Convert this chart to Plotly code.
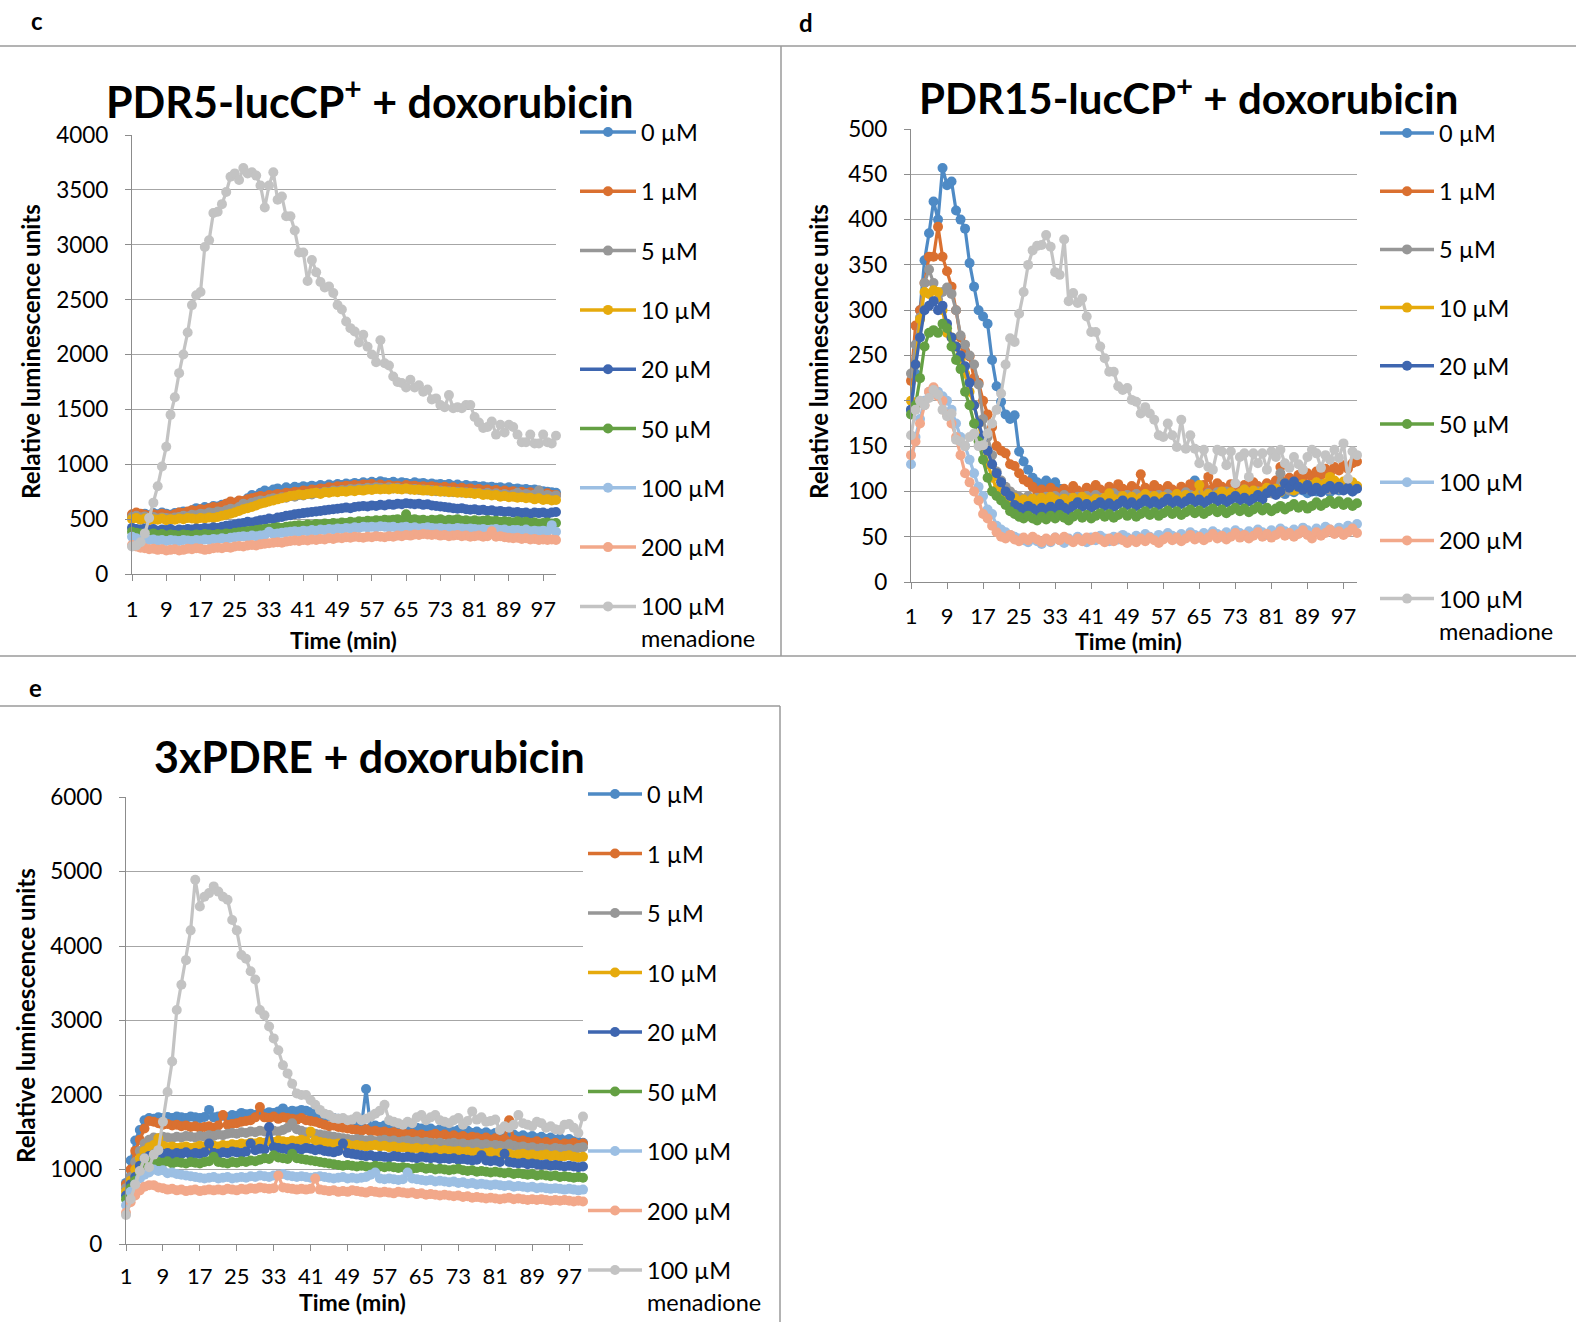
import plotly.graph_objects as go

W, H = 1576, 1322
FONT = "Lato"

# ---- series labels and colours ----
series_names = ["0 µM", "1 µM", "5 µM", "10 µM", "20 µM", "50 µM", "100 µM", "200 µM", "100 µM menadione"]
colors = ["#4E8AC5", "#DA7030", "#979797", "#E6AA0C", "#3E66B0", "#64A043", "#9CBFE3", "#F2A88A", "#C3C3C3"]
x_ticks = [1, 9, 17, 25, 33, 41, 49, 57, 65, 73, 81, 89, 97]
time_min = list(range(1, 101))

# ---- panel c: PDR5-lucCP+ + doxorubicin ----
c_0uM = [530, 545, 540, 550, 535, 555, 545, 560, 550, 540,
         555, 560, 570, 560, 580, 600, 590, 610, 600, 620,
         615, 630, 640, 625, 650, 665, 660, 690, 720, 710,
         740, 760, 750, 770, 780, 760, 790, 775, 795, 785,
         800, 790, 805, 795, 810, 800, 815, 805, 820, 810,
         825, 815, 830, 820, 835, 825, 840, 830, 845, 835,
         830, 840, 825, 835, 830, 820, 835, 825, 830, 815,
         825, 815, 820, 810, 820, 805, 815, 800, 810, 800,
         805, 795, 800, 790, 795, 785, 790, 780, 790, 775,
         780, 770, 775, 765, 770, 760, 755, 750, 745, 740]
c_1uM = [545, 560, 550, 540, 530, 545, 535, 550, 540, 530,
         545, 560, 555, 570, 580, 575, 590, 585, 600, 610,
         605, 620, 640, 660, 650, 670, 665, 680, 690, 700,
         710, 705, 720, 715, 730, 725, 740, 735, 750, 745,
         760, 755, 770, 765, 780, 775, 790, 785, 800, 795,
         805, 800, 810, 805, 815, 810, 820, 805, 815, 800,
         810, 800, 805, 795, 810, 800, 805, 795, 800, 790,
         800, 790, 785, 795, 780, 790, 775, 785, 770, 780,
         765, 775, 760, 770, 755, 765, 750, 760, 745, 755,
         740, 750, 735, 745, 730, 740, 725, 735, 720, 720]
c_5uM = [520, 530, 515, 525, 510, 520, 505, 515, 510, 505,
         515, 520, 530, 525, 540, 535, 550, 545, 560, 555,
         570, 565, 580, 595, 590, 610, 640, 630, 650, 660,
         670, 665, 680, 690, 685, 700, 695, 710, 705, 720,
         715, 730, 725, 740, 735, 750, 745, 760, 755, 765,
         760, 775, 770, 780, 775, 785, 780, 790, 785, 780,
         790, 780, 785, 775, 780, 770, 775, 765, 770, 760,
         765, 755, 760, 750, 755, 745, 750, 740, 745, 735,
         740, 735, 730, 740, 725, 735, 720, 730, 715, 725,
         740, 720, 730, 715, 725, 760, 710, 720, 705, 715]
c_10uM = [500, 510, 495, 505, 490, 500, 495, 505, 490, 500,
          495, 505, 500, 510, 505, 500, 510, 505, 515, 510,
          520, 530, 540, 550, 560, 575, 590, 600, 610, 625,
          640, 650, 660, 670, 680, 690, 700, 710, 715, 725,
          720, 730, 735, 740, 730, 745, 740, 750, 745, 755,
          750, 760, 755, 765, 760, 770, 765, 775, 770, 775,
          770, 780, 775, 770, 780, 770, 765, 770, 760, 765,
          755, 760, 750, 755, 745, 750, 740, 745, 735, 740,
          730, 735, 720, 725, 715, 720, 705, 710, 700, 705,
          695, 700, 690, 695, 680, 690, 675, 680, 670, 675]
c_20uM = [420, 410, 405, 415, 400, 410, 395, 405, 400, 410,
          395, 405, 400, 410, 405, 415, 410, 420, 415, 425,
          420, 430, 440, 445, 450, 460, 465, 475, 470, 480,
          490, 495, 505, 500, 515, 520, 530, 535, 545, 550,
          555, 560, 565, 570, 575, 580, 585, 590, 595, 600,
          605, 600, 610, 615, 620, 615, 625, 620, 630, 625,
          635, 630, 640, 635, 645, 640, 635, 640, 630, 635,
          625, 620, 615, 610, 605, 600, 595, 600, 590, 585,
          590, 580, 585, 575, 580, 570, 575, 565, 570, 560,
          565, 555, 560, 550, 560, 555, 560, 550, 560, 565]
c_50uM = [385, 375, 370, 365, 360, 370, 355, 365, 350, 360,
          355, 350, 360, 355, 350, 360, 355, 365, 360, 355,
          365, 360, 370, 365, 375, 380, 385, 390, 395, 400,
          405, 410, 415, 420, 425, 420, 430, 435, 440, 445,
          440, 450, 445, 455, 450, 460, 455, 465, 460, 470,
          465, 475, 470, 480, 475, 485, 480, 490, 485, 495,
          490, 495, 500, 490, 545, 495, 500, 490, 495, 485,
          495, 490, 500, 485, 495, 490, 500, 485, 490, 480,
          490, 480, 485, 490, 480, 485, 475, 480, 475, 470,
          480, 470, 475, 465, 470, 460, 465, 470, 460, 465]
c_100uM = [340, 325, 315, 320, 310, 315, 305, 310, 300, 310,
           305, 300, 310, 305, 300, 310, 305, 315, 310, 320,
           315, 325, 320, 330, 335, 340, 345, 340, 350, 345,
           350, 355, 385, 365, 370, 375, 380, 385, 390, 385,
           395, 390, 400, 395, 405, 400, 410, 405, 415, 410,
           420, 415, 425, 420, 430, 425, 430, 425, 435, 430,
           425, 430, 420, 425, 430, 420, 425, 415, 420, 425,
           420, 415, 420, 410, 415, 410, 420, 415, 410, 415,
           410, 405, 410, 400, 405, 410, 400, 405, 395, 400,
           400, 395, 405, 390, 395, 390, 395, 390, 445, 385]
c_200uM = [265, 250, 240, 235, 225, 230, 220, 225, 215, 220,
           225, 215, 220, 230, 225, 235, 230, 220, 225, 235,
           240, 235, 245, 240, 250, 255, 250, 260, 265, 260,
           270, 275, 280, 285, 290, 285, 295, 300, 305, 300,
           310, 305, 315, 310, 320, 315, 325, 320, 330, 325,
           335, 330, 340, 335, 330, 340, 335, 345, 340, 335,
           345, 340, 350, 345, 355, 350, 360, 355, 365, 360,
           355, 360, 350, 355, 345, 350, 355, 345, 350, 340,
           345, 350, 340, 345, 390, 340, 345, 335, 330, 325,
           330, 320, 325, 315, 320, 310, 315, 310, 315, 310]
c_menadione = [250, 260, 290, 370, 510, 650, 800, 980, 1160, 1450,
               1610, 1830, 2000, 2200, 2450, 2540, 2570, 2980, 3040, 3290,
               3300, 3370, 3480, 3620, 3650, 3590, 3700, 3650, 3660, 3630,
               3540, 3340, 3540, 3660, 3410, 3440, 3260, 3260, 3130, 2930,
               2930, 2670, 2860, 2750, 2660, 2610, 2620, 2560, 2450, 2410,
               2300, 2240, 2210, 2110, 2180, 2070, 2000, 1930, 2130, 1920,
               1900, 1800, 1750, 1740, 1700, 1770, 1700, 1720, 1660, 1680,
               1590, 1600, 1540, 1520, 1630, 1510, 1520, 1510, 1540, 1540,
               1430, 1380, 1330, 1340, 1390, 1270, 1360, 1290, 1360, 1340,
               1270, 1200, 1200, 1270, 1190, 1190, 1270, 1200, 1190, 1260]

# ---- panel d: PDR15-lucCP+ + doxorubicin ----
d_0uM = [190, 230, 300, 355, 385, 420, 400, 457, 438, 442,
         410, 400, 390, 352, 326, 300, 293, 285, 245, 216,
         199, 185, 180, 184, 144, 133, 124, 115, 110, 108,
         112, 105, 110, 103, 100, 98, 95, 97, 92, 95,
         90, 96, 92, 98, 94, 90, 97, 93, 99, 95,
         92, 98, 94, 100, 96, 93, 99, 95, 101, 97,
         94, 100, 96, 112, 98, 95, 101, 97, 94, 100,
         96, 102, 98, 95, 101, 97, 103, 99, 96, 102,
         98, 104, 100, 97, 103, 99, 105, 101, 98, 104,
         100, 106, 102, 99, 105, 101, 107, 103, 100, 104]
d_1uM = [222, 283, 300, 330, 359, 359, 392, 359, 343, 326,
         300, 270, 255, 249, 225, 220, 200, 185, 171, 150,
         145, 142, 130, 128, 120, 113, 110, 105, 100, 102,
         98, 104, 100, 97, 103, 99, 106, 101, 98, 104,
         100, 107, 102, 99, 105, 101, 108, 103, 100, 106,
         102, 119, 104, 101, 107, 103, 100, 106, 102, 99,
         105, 101, 108, 104, 100, 107, 116, 103, 109, 105,
         102, 108, 104, 101, 107, 103, 110, 106, 102, 109,
         105, 112, 127, 108, 115, 111, 118, 114, 120, 116,
         122, 118, 125, 120, 127, 123, 129, 125, 131, 133]
d_5uM = [230, 262, 292, 330, 345, 330, 312, 320, 325, 318,
         300, 272, 262, 250, 240, 218, 180, 160, 140, 122,
         112, 105, 100, 96, 94, 92, 95, 91, 93, 90,
         94, 91, 95, 92, 96, 93, 90, 94, 91, 95,
         92, 96, 93, 90, 94, 98, 95, 92, 96, 93,
         97, 94, 91, 95, 92, 96, 93, 97, 94, 91,
         95, 99, 96, 93, 97, 94, 98, 95, 99, 96,
         100, 97, 94, 98, 102, 99, 96, 100, 97, 101,
         98, 102, 120, 104, 101, 105, 102, 106, 103, 107,
         104, 108, 105, 102, 106, 103, 107, 104, 108, 105]
d_10uM = [200, 240, 290, 320, 318, 322, 320, 300, 275, 270,
          260, 245, 230, 210, 195, 175, 150, 130, 115, 102,
          96, 92, 90, 93, 89, 91, 88, 92, 89, 93,
          90, 94, 91, 88, 92, 89, 93, 90, 94, 91,
          88, 92, 89, 93, 98, 92, 89, 95, 91, 94,
          90, 93, 97, 92, 95, 91, 94, 90, 93, 97,
          93, 96, 92, 95, 107, 94, 97, 93, 96, 100,
          96, 99, 95, 98, 102, 98, 101, 97, 100, 104,
          100, 103, 99, 109, 105, 101, 104, 108, 104, 107,
          110, 106, 109, 116, 112, 108, 111, 107, 110, 106]
d_20uM = [190, 240, 270, 300, 305, 310, 300, 305, 285, 270,
          260, 250, 238, 220, 195, 175, 160, 145, 130, 120,
          110, 100, 95, 85, 82, 80, 84, 81, 78, 82,
          79, 83, 80, 86, 82, 79, 84, 88, 83, 86,
          82, 85, 88, 84, 87, 83, 86, 90, 85, 88,
          84, 87, 91, 86, 89, 85, 88, 92, 87, 90,
          86, 89, 93, 88, 91, 87, 90, 94, 89, 92,
          88, 91, 95, 90, 93, 89, 92, 96, 91, 98,
          102, 96, 100, 109, 104, 111, 105, 102, 107, 100,
          104, 99, 103, 106, 102, 105, 101, 104, 100, 103]
d_50uM = [185, 195, 225, 260, 275, 278, 275, 285, 280, 260,
          245, 235, 210, 195, 175, 155, 135, 115, 100, 95,
          90, 85, 78, 75, 72, 70, 73, 70, 68, 72,
          69, 73, 70, 74, 71, 68, 72, 75, 71, 74,
          70, 73, 76, 72, 75, 71, 74, 77, 73, 76,
          72, 75, 78, 74, 77, 73, 76, 79, 75, 78,
          74, 77, 80, 76, 79, 75, 78, 81, 77, 80,
          76, 79, 82, 78, 81, 77, 80, 83, 79, 82,
          78, 81, 84, 80, 83, 86, 82, 85, 81, 84,
          88, 84, 87, 90, 86, 89, 85, 88, 84, 87]
d_100uM = [130, 160, 180, 200, 210, 213, 210, 205, 200, 190,
           175, 160, 150, 135, 120, 105, 95, 80, 75, 62,
           58, 55, 52, 50, 48, 46, 44, 48, 45, 42,
           47, 44, 49, 46, 43, 48, 45, 50, 47, 44,
           49, 46, 51, 48, 45, 50, 47, 52, 49, 46,
           51, 48, 53, 50, 47, 52, 49, 54, 51, 48,
           53, 50, 55, 52, 49, 54, 51, 56, 53, 50,
           55, 52, 57, 54, 51, 56, 53, 58, 55, 52,
           57, 54, 59, 56, 53, 58, 55, 60, 57, 54,
           59, 56, 61, 58, 55, 60, 57, 62, 59, 64]
d_200uM = [140, 155, 175, 195, 210, 215, 205, 200, 185, 175,
           160, 140, 120, 110, 100, 90, 75, 70, 62, 55,
           50, 48, 52, 47, 45, 49, 46, 50, 47, 44,
           48, 45, 49, 46, 50, 47, 44, 48, 45, 49,
           46, 50, 47, 44, 48, 45, 49, 46, 43, 47,
           44, 48, 45, 49, 46, 43, 47, 50, 46, 49,
           45, 48, 52, 47, 50, 46, 49, 53, 48, 51,
           47, 50, 54, 49, 52, 48, 51, 55, 50, 53,
           49, 52, 56, 51, 54, 50, 53, 57, 52, 48,
           55, 51, 54, 58, 53, 56, 52, 55, 59, 54]
d_menadione = [162, 190, 200, 195, 203, 212, 207, 190, 183, 186,
               157, 155, 150, 160, 164, 150, 151, 164, 175, 190,
               208, 240, 269, 265, 296, 320, 350, 366, 371, 372,
               383, 370, 342, 339, 378, 310, 319, 308, 313, 293,
               276, 276, 260, 247, 232, 232, 216, 212, 214, 201,
               199, 186, 193, 186, 179, 162, 160, 175, 162, 149,
               179, 147, 162, 147, 131, 146, 127, 124, 146, 144,
               129, 144, 109, 138, 142, 116, 142, 131, 142, 124,
               144, 138, 146, 131, 126, 138, 130, 124, 138, 146,
               142, 126, 140, 135, 146, 137, 153, 114, 144, 140]

# ---- panel e: 3xPDRE + doxorubicin ----
e_0uM = [820, 1120, 1390, 1530, 1660, 1690, 1680, 1700, 1690, 1705,
         1690, 1710, 1700, 1690, 1710, 1700, 1690, 1705, 1800, 1700,
         1710, 1720, 1700, 1730, 1720, 1760, 1740, 1750, 1730, 1760,
         1750, 1770, 1760, 1780, 1820, 1770, 1790, 1780, 1800, 1790,
         1770, 1730, 1750, 1700, 1720, 1690, 1680, 1660, 1650, 1620,
         1600, 1580, 2080, 1560, 1590, 1570, 1590, 1560, 1580, 1550,
         1570, 1560, 1540, 1560, 1550, 1530, 1550, 1520, 1540, 1530,
         1520, 1510, 1530, 1500, 1520, 1490, 1510, 1480, 1500, 1470,
         1490, 1460, 1480, 1450, 1470, 1440, 1460, 1430, 1450, 1420,
         1440, 1410, 1430, 1400, 1420, 1390, 1410, 1380, 1370, 1360]
e_1uM = [800, 1000, 1250, 1400, 1550, 1650, 1640, 1620, 1600, 1610,
         1590, 1600, 1580, 1590, 1570, 1580, 1560, 1570, 1580, 1560,
         1590, 1730, 1600, 1610, 1620, 1640, 1650, 1660, 1700, 1840,
         1700, 1690, 1710, 1680, 1700, 1690, 1680, 1670, 1690, 1660,
         1650, 1640, 1620, 1600, 1580, 1590, 1570, 1560, 1550, 1540,
         1530, 1520, 1540, 1510, 1520, 1500, 1510, 1490, 1500, 1480,
         1490, 1470, 1480, 1460, 1470, 1450, 1460, 1480, 1450, 1470,
         1440, 1460, 1430, 1450, 1420, 1440, 1430, 1410, 1430, 1400,
         1420, 1390, 1410, 1660, 1400, 1380, 1390, 1370, 1360, 1380,
         1350, 1370, 1340, 1360, 1330, 1350, 1340, 1360, 1330, 1350]
e_5uM = [750, 900, 1100, 1250, 1350, 1400, 1430, 1420, 1440, 1430,
         1420, 1440, 1430, 1450, 1440, 1430, 1450, 1440, 1460, 1450,
         1470, 1460, 1480, 1490, 1480, 1500, 1490, 1510, 1500, 1520,
         1510, 1500, 1520, 1510, 1530, 1560, 1620, 1540, 1520, 1500,
         1490, 1480, 1470, 1460, 1450, 1440, 1430, 1420, 1410, 1400,
         1410, 1400, 1390, 1400, 1380, 1390, 1400, 1380, 1390, 1370,
         1380, 1390, 1370, 1380, 1360, 1370, 1360, 1350, 1360, 1340,
         1350, 1360, 1340, 1350, 1330, 1340, 1350, 1330, 1340, 1320,
         1330, 1320, 1310, 1340, 1320, 1300, 1310, 1290, 1300, 1280,
         1290, 1280, 1270, 1290, 1280, 1270, 1280, 1260, 1290, 1300]
e_10uM = [700, 850, 1000, 1150, 1250, 1300, 1330, 1420, 1320, 1300,
          1310, 1290, 1300, 1310, 1290, 1300, 1320, 1310, 1300, 1320,
          1310, 1330, 1320, 1340, 1330, 1350, 1340, 1360, 1350, 1370,
          1360, 1380, 1370, 1390, 1380, 1370, 1390, 1380, 1400, 1380,
          1510, 1390, 1370, 1360, 1350, 1340, 1350, 1330, 1340, 1320,
          1330, 1320, 1310, 1320, 1330, 1310, 1320, 1300, 1310, 1290,
          1300, 1290, 1280, 1290, 1270, 1280, 1260, 1270, 1250, 1260,
          1250, 1240, 1250, 1230, 1240, 1220, 1230, 1210, 1220, 1230,
          1210, 1220, 1200, 1210, 1190, 1200, 1210, 1190, 1200, 1180,
          1190, 1200, 1180, 1190, 1170, 1180, 1190, 1170, 1160, 1170]
e_20uM = [650, 800, 900, 1050, 1150, 1180, 1200, 1230, 1210, 1220,
          1200, 1220, 1210, 1230, 1200, 1220, 1210, 1230, 1350, 1220,
          1210, 1230, 1220, 1240, 1230, 1220, 1240, 1350, 1260, 1280,
          1270, 1570, 1300, 1290, 1280, 1270, 1290, 1280, 1270, 1290,
          1280, 1260, 1270, 1250, 1240, 1230, 1250, 1350, 1220, 1210,
          1200, 1190, 1180, 1190, 1170, 1180, 1170, 1160, 1180, 1170,
          1160, 1170, 1160, 1150, 1170, 1160, 1150, 1160, 1140, 1150,
          1140, 1150, 1130, 1140, 1130, 1120, 1130, 1190, 1120, 1110,
          1120, 1100, 1210, 1100, 1090, 1080, 1090, 1070, 1080, 1070,
          1060, 1070, 1050, 1060, 1050, 1040, 1050, 1040, 1030, 1040]
e_50uM = [600, 750, 850, 950, 1050, 1100, 1120, 1100, 1090, 1110,
          1080, 1100, 1090, 1080, 1100, 1090, 1080, 1100, 1110, 1170,
          1100, 1090, 1080, 1100, 1090, 1110, 1100, 1120, 1110, 1130,
          1150, 1140, 1190, 1160, 1150, 1140, 1210, 1150, 1140, 1130,
          1120, 1110, 1100, 1090, 1080, 1070, 1060, 1050, 1060, 1050,
          1040, 1050, 1040, 1030, 1050, 1040, 1030, 1040, 1030, 1020,
          1030, 1020, 1010, 1020, 1030, 1010, 1020, 1000, 1010, 1000,
          990, 1000, 1010, 990, 980, 990, 970, 980, 970, 960,
          970, 960, 950, 960, 940, 950, 940, 930, 940, 920,
          930, 920, 910, 920, 900, 910, 900, 890, 900, 890]
e_100uM = [520, 700, 800, 880, 930, 960, 1000, 980, 990, 950,
           960, 940, 930, 920, 910, 900, 890, 880, 890, 900,
           880, 890, 900, 880, 890, 900, 890, 910, 900, 920,
           910, 900, 920, 930, 940, 920, 910, 900, 910, 900,
           890, 900, 910, 900, 890, 880, 890, 900, 880, 890,
           880, 890, 900, 930, 960, 880, 870, 880, 870, 860,
           870, 960, 880, 870, 860, 850, 860, 840, 850, 840,
           830, 840, 820, 830, 810, 820, 800, 810, 800, 790,
           800, 790, 780, 790, 770, 780, 770, 760, 770, 750,
           760, 750, 740, 750, 740, 730, 740, 730, 720, 730]
e_200uM = [420, 560, 650, 720, 770, 790, 790, 760, 750, 730,
           740, 720, 730, 710, 720, 730, 710, 720, 730, 720,
           730, 720, 740, 730, 720, 740, 730, 750, 740, 760,
           750, 740, 750, 920, 760, 750, 740, 730, 740, 730,
           740, 880, 730, 720, 710, 720, 700, 710, 700, 720,
           710, 700, 690, 710, 700, 690, 700, 690, 680, 700,
           690, 680, 690, 670, 680, 660, 670, 660, 650, 660,
           650, 640, 650, 630, 640, 620, 630, 620, 610, 620,
           610, 600, 610, 620, 600, 610, 600, 590, 600, 590,
           600, 590, 580, 590, 580, 590, 580, 570, 580, 570]
e_menadione = [390, 600, 800, 980, 1150, 1030, 1200, 1260, 1640, 2040,
               2450, 3140, 3480, 3810, 4210, 4890, 4530, 4660, 4710, 4800,
               4730, 4660, 4620, 4350, 4210, 3880, 3830, 3660, 3550, 3140,
               3070, 2920, 2760, 2600, 2400, 2290, 2150, 2020, 2000, 2000,
               1930, 1870, 1800, 1750, 1730, 1690, 1680, 1690, 1660, 1670,
               1710, 1660, 1680, 1710, 1750, 1790, 1870, 1660, 1640, 1620,
               1600, 1640, 1620, 1700, 1730, 1660, 1700, 1730, 1660, 1640,
               1620, 1660, 1690, 1600, 1650, 1780, 1670, 1700, 1640, 1650,
               1670, 1530, 1580, 1560, 1600, 1730, 1620, 1600, 1580, 1640,
               1620, 1560, 1580, 1540, 1530, 1600, 1610, 1560, 1490, 1710]

c_series = [c_0uM, c_1uM, c_5uM, c_10uM, c_20uM, c_50uM, c_100uM, c_200uM, c_menadione]
d_series = [d_0uM, d_1uM, d_5uM, d_10uM, d_20uM, d_50uM, d_100uM, d_200uM, d_menadione]
e_series = [e_0uM, e_1uM, e_5uM, e_10uM, e_20uM, e_50uM, e_100uM, e_200uM, e_menadione]


def fx(x):
    return x / W


def fy(y):
    return 1 - y / H


# Plot-area boxes in pixels (left, right, top, bottom) plus layout details for each panel
panels = [
    dict(letter="c", letter_xy=(37, 20), series=c_series,
         title="PDR5-lucCP<sup>+</sup> + doxorubicin", title_xy=(369, 98), title_size=43,
         box=(132, 556, 135, 574), ymax=4000, dtick=500, xstandoff=9,
         ytitle_xy=(31, 352), xtitle_xy=(343, 640),
         legend=dict(x0=580, x1=636, tx=639, y0=132, dy=59.3)),
    dict(letter="d", letter_xy=(806, 22), series=d_series,
         title="PDR15-lucCP<sup>+</sup> + doxorubicin", title_xy=(1188, 95), title_size=42,
         box=(911, 1357, 129, 582), ymax=500, dtick=50, xstandoff=8,
         ytitle_xy=(819, 352), xtitle_xy=(1128, 641),
         legend=dict(x0=1380, x1=1434, tx=1437, y0=133, dy=58.2)),
    dict(letter="e", letter_xy=(35, 687), series=e_series,
         title="3xPDRE + doxorubicin", title_xy=(369, 756), title_size=43,
         box=(126, 583, 797, 1244), ymax=6000, dtick=1000, xstandoff=6,
         ytitle_xy=(25, 1016), xtitle_xy=(352, 1302),
         legend=dict(x0=588, x1=642, tx=645, y0=794, dy=59.5)),
]

fig = go.Figure()
layout = dict(
    width=W, height=H,
    margin=dict(l=0, r=0, t=0, b=0, pad=0, autoexpand=False),
    paper_bgcolor="white", plot_bgcolor="white",
    showlegend=False,
    font=dict(family=FONT, size=22, color="#000000"),
)
shapes = []
annotations = []

GRID = "#A6A6A6"
AXIS = "#8C8C8C"
TICK_SIZE = 22
LEGEND_SIZE = 23.5

for k, p in enumerate(panels):
    sfx = "" if k == 0 else str(k + 1)
    xa, ya = "x" + sfx, "y" + sfx
    left, right, top, bottom = p["box"]

    for name, col, vals in zip(series_names, colors, p["series"]):
        fig.add_trace(go.Scatter(
            x=time_min, y=vals, name=name, mode="lines+markers",
            line=dict(color=col, width=3.2),
            marker=dict(color=col, size=10, symbol="circle"),
            xaxis=xa, yaxis=ya, cliponaxis=False,
        ))

    layout["xaxis" + sfx] = dict(
        domain=[fx(left), fx(right)], anchor=ya, range=[1, 100], automargin=False,
        tickmode="array", tickvals=x_ticks, ticktext=[str(t) for t in x_ticks],
        ticks="outside", ticklen=6, tickcolor=AXIS, tickwidth=1.3,
        ticklabelstandoff=p["xstandoff"],
        showgrid=False, zeroline=False, showline=True, linecolor=AXIS, linewidth=1.3,
        tickfont=dict(family=FONT, size=TICK_SIZE, color="#000000"),
    )
    layout["yaxis" + sfx] = dict(
        domain=[fy(bottom), fy(top)], anchor=xa, range=[0, p["ymax"]], automargin=False,
        tickmode="linear", tick0=0, dtick=p["dtick"],
        ticks="outside", ticklen=6, tickcolor=AXIS, tickwidth=1.3,
        ticklabelstandoff=12,
        showgrid=True, gridcolor=GRID, gridwidth=1.3,
        zeroline=False, showline=True, linecolor=AXIS, linewidth=1.3,
        tickfont=dict(family=FONT, size=22.5, color="#000000"),
    )

    # panel letter, chart title and axis titles
    lx, ly = p["letter_xy"]
    annotations.append(dict(text="<b>%s</b>" % p["letter"], x=fx(lx), y=fy(ly), xref="paper", yref="paper",
                            showarrow=False, xanchor="center", yanchor="middle",
                            font=dict(family=FONT, size=24, color="#000000")))
    tx, ty = p["title_xy"]
    annotations.append(dict(text="<b>%s</b>" % p["title"], x=fx(tx), y=fy(ty), xref="paper", yref="paper",
                            showarrow=False, xanchor="center", yanchor="middle",
                            font=dict(family=FONT, size=p["title_size"], color="#000000")))
    ax_, ay_ = p["ytitle_xy"]
    annotations.append(dict(text="<b>Relative luminescence units</b>", x=fx(ax_), y=fy(ay_),
                            xref="paper", yref="paper", showarrow=False, textangle=-90,
                            xanchor="center", yanchor="middle",
                            font=dict(family=FONT, size=24, color="#000000")))
    bx, by = p["xtitle_xy"]
    annotations.append(dict(text="<b>Time (min)</b>", x=fx(bx), y=fy(by), xref="paper", yref="paper",
                            showarrow=False, xanchor="center", yanchor="middle",
                            font=dict(family=FONT, size=23, color="#000000")))

    # legend: line sample with a marker, then the label
    lg = p["legend"]
    r = 5
    for i, (name, col) in enumerate(zip(series_names, colors)):
        yc = lg["y0"] + i * lg["dy"]
        shapes.append(dict(type="line", xref="paper", yref="paper",
                           x0=fx(lg["x0"]), x1=fx(lg["x1"]), y0=fy(yc), y1=fy(yc),
                           line=dict(color=col, width=3.5)))
        xm = (lg["x0"] + lg["x1"]) / 2
        shapes.append(dict(type="circle", xref="paper", yref="paper",
                           x0=fx(xm - r), x1=fx(xm + r), y0=fy(yc + r), y1=fy(yc - r),
                           fillcolor=col, line=dict(color=col, width=0)))
        words = name.split(" ")
        first = " ".join(words[:2])
        annotations.append(dict(text=first, x=fx(lg["tx"]), y=fy(yc), xref="paper", yref="paper",
                                showarrow=False, xanchor="left", yanchor="middle",
                                font=dict(family=FONT, size=LEGEND_SIZE, color="#000000")))
        if len(words) > 2:
            annotations.append(dict(text=" ".join(words[2:]), x=fx(lg["tx"]), y=fy(yc + 32),
                                    xref="paper", yref="paper", showarrow=False,
                                    xanchor="left", yanchor="middle",
                                    font=dict(family=FONT, size=LEGEND_SIZE, color="#000000")))

# frame lines separating the panels
BORDER = dict(color="#9A9A9A", width=1.5)
for x0, y0, x1, y1 in [(0, 46, W, 46), (781, 46, 781, 656), (0, 656, W, 656),
                       (0, 706, 780, 706), (780, 706, 780, H)]:
    shapes.append(dict(type="line", xref="paper", yref="paper",
                       x0=fx(x0), y0=fy(y0), x1=fx(x1), y1=fy(y1), line=BORDER))

layout["shapes"] = shapes
layout["annotations"] = annotations
fig.update_layout(**layout)
fig.write_html(
    "out.html",
    post_script=("document.body.style.margin='0';"
                 "document.body.style.padding='0';"
                 "document.documentElement.style.overflow='hidden';"),
)
